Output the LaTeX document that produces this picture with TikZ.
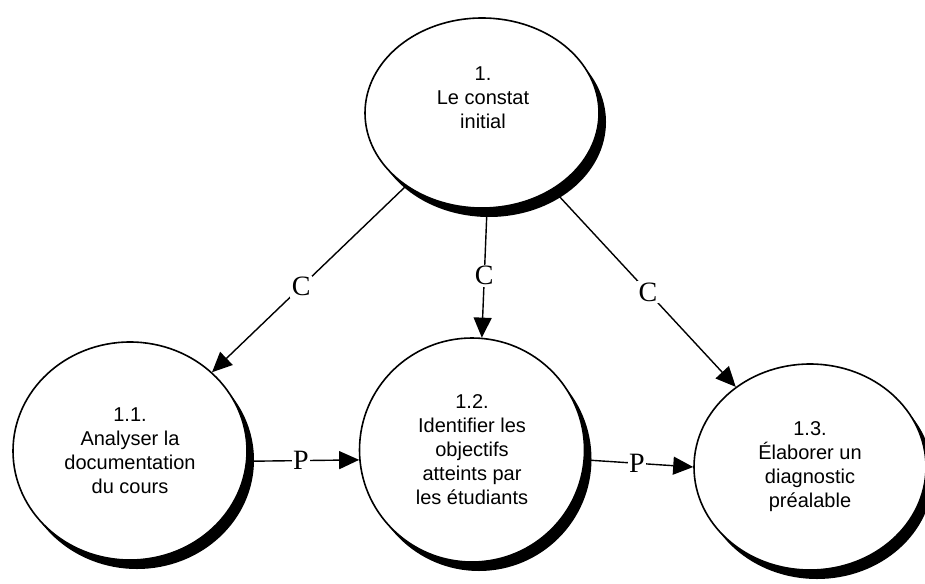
\documentclass[tikz,border=0pt]{standalone}
\usepackage{fontspec}
\setmainfont{Liberation Sans}
\newfontfamily\tagfont{Liberation Serif}
\usetikzlibrary{shapes.geometric, arrows.meta, positioning, math, shadows}

\begin{document}
\begin{tikzpicture}[x=1pt, y=-1pt]
	\tikzmath{
		\lineW   = 1.4;  %connector width
		\rimW    = 1.6;  %ellipse outline width
		\shadowX = 7;    %shadow shift right
		\shadowY = 9;    %shadow shift down
		\headL   = 20;   %arrow head length
		\headW   = 18;   %arrow head width
	}
	\tikzstyle{Proc} = [
		ellipse,
		draw=black,
		line width=\rimW pt,
		fill=white,
		inner sep=0pt,
		drop shadow={fill=black, opacity=1, shadow xshift=\shadowX pt, shadow yshift=-\shadowY pt}
	]
	\tikzstyle{Txt}  = [align=center, font=\fontsize{20}{24}\selectfont]
	\tikzstyle{Link} = [line width=\lineW pt, -{Triangle[length=\headL pt, width=\headW pt]}]
	\tikzstyle{Tag}  = [fill=white, inner sep=1.5pt, font=\tagfont\fontsize{28}{28}\selectfont]

	\useasboundingbox (0,0) rectangle (925,583);

	%%%%%%%%%%%%%%%%%%%%%%%%%%===---TOP---===%%%%%%%%%%%%%%%%%%%%%%%%%%
	\node (constat) [Proc, minimum width=234pt, minimum height=190pt] at (482,113) {};
	\node (constatTxt) [Txt] at (483,98) {1.\\Le constat\\initial};

	%%%%%%%%%%%%%%%%%%%%%%%%%%===---BOTTOM ROW---===%%%%%%%%%%%%%%%%%%%%%%%%%%
	\node (analyser) [Proc, Txt, minimum width=234pt, minimum height=218pt] at (130,451)
		{1.1.\\Analyser la\\documentation\\du cours};
	\node (identifier) [Proc, Txt, minimum width=225pt, minimum height=224pt] at (472,450)
		{1.2.\\Identifier les\\objectifs\\atteints par\\les étudiants};
	\node (elaborer) [Proc, Txt, minimum width=232pt, minimum height=206pt] at (810,467)
		{1.3.\\Élaborer un\\diagnostic\\préalable};

	%%%%%%%%%%%%%%%%%%%%%%%%%%===---CONNECTORS---===%%%%%%%%%%%%%%%%%%%%%%%%%%
	\draw[Link] (constat) -- node[Tag, pos=.54] {C} (analyser);
	\draw[Link] (constat.273) -- node[Tag, pos=.52] {C} (identifier.85);
	\draw[Link] (constat) -- node[Tag, pos=.52] {C} (elaborer);

	\draw[Link] (analyser.-5) -- node[Tag, pos=.48] {P} (identifier.185);
	\draw[Link] (identifier.-5) -- node[Tag, pos=.48] {P} (elaborer.west);
\end{tikzpicture}
\end{document}
